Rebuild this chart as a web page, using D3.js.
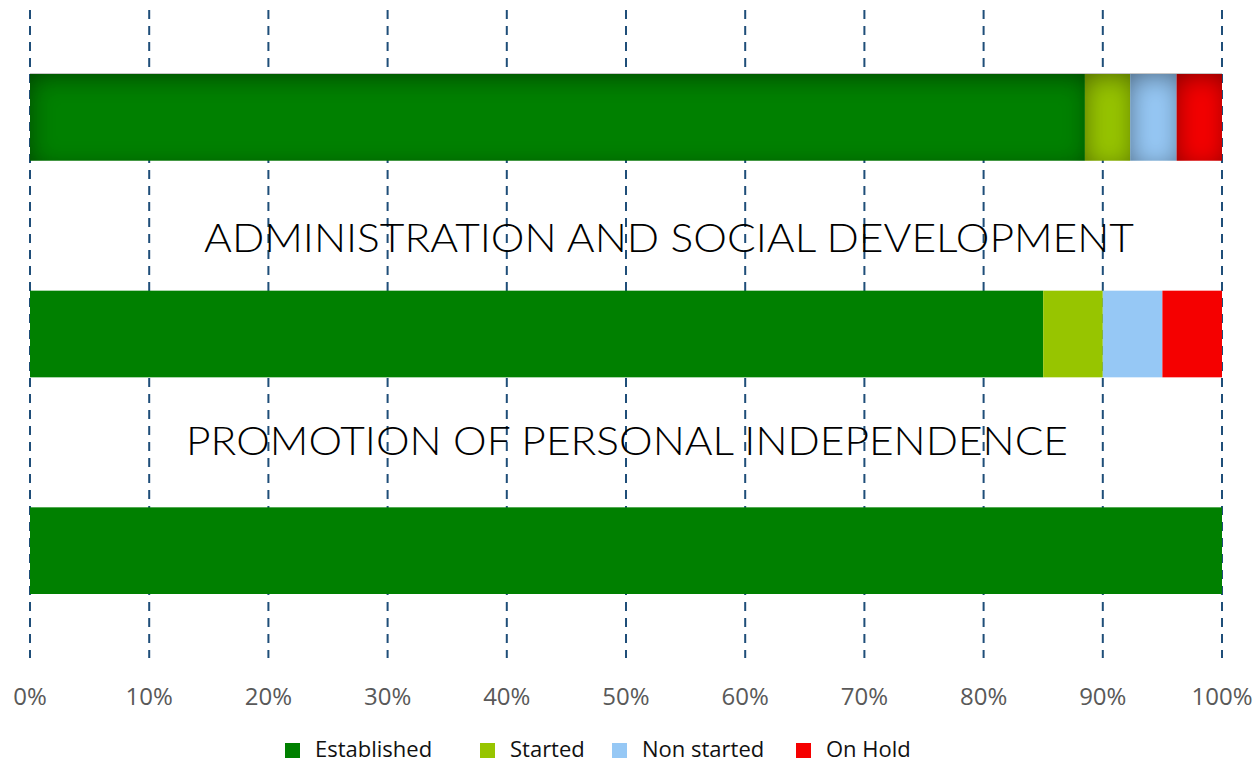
<!DOCTYPE html>
<html>
<head>
<meta charset="utf-8">
<script src="https://cdn.jsdelivr.net/npm/d3@7"></script>
<style>
  body { margin: 0; background: #fff; }
  svg text { font-family: "Open Sans", sans-serif; }
  .grid line { stroke: #1f4e79; stroke-width: 2; stroke-dasharray: 9 7; }
  .tick-label { fill: #595959; font-size: 24px; }
  .legend text { fill: #111; font-size: 22px; }
  .cat-label { fill: #000; font-family: Lato, "Open Sans", sans-serif; font-weight: 300; font-size: 40px; }
</style>
</head>
<body>
<div id="chart"></div>
<script>
// data
const categories = ['row1', 'row2', 'row3']
const categoryLabels = ['', 'ADMINISTRATION AND SOCIAL DEVELOPMENT', 'PROMOTION OF PERSONAL INDEPENDENCE']
const seriesNames = ['Established', 'Started', 'Non started', 'On Hold']
const established = [88.5, 85, 100]
const started = [3.8, 5, 0]
const nonStarted = [3.9, 5, 0]
const onHold = [3.8, 5, 0]
const tickValues = [0, 10, 20, 30, 40, 50, 60, 70, 80, 90, 100]

const colors = ['#008000', '#97c500', '#96c8f5', '#f50000']

const width = 1256
const height = 763

const rows = categories.map((c, i) => ({
  cat: c,
  'Established': established[i],
  'Started': started[i],
  'Non started': nonStarted[i],
  'On Hold': onHold[i]
}))

const stacked = d3.stack().keys(seriesNames)(rows)

const x = d3.scaleLinear().domain([0, 100]).range([30, 1222])
const y = d3.scaleBand().domain(categories).range([9, 659]).paddingInner(0.6).paddingOuter(0.3)
const color = d3.scaleOrdinal().domain(seriesNames).range(colors)

const svg = d3.select('#chart')
  .append('svg')
  .attr('width', width)
  .attr('height', height)

// inner shadow used on the first row only
const filter = svg.append('defs').append('filter')
  .attr('id', 'innerShade')
  .attr('filterUnits', 'userSpaceOnUse')
  .attr('x', 0).attr('y', 0)
  .attr('width', width).attr('height', 250)
filter.append('feFlood').attr('flood-color', '#000').attr('flood-opacity', 1)
filter.append('feComposite').attr('in2', 'SourceAlpha').attr('operator', 'out')
filter.append('feGaussianBlur').attr('stdDeviation', 12)
filter.append('feOffset').attr('dx', 2).attr('dy', 5).attr('result', 'shadow')
filter.append('feComposite').attr('in', 'shadow').attr('in2', 'SourceAlpha').attr('operator', 'in')
filter.append('feComponentTransfer').attr('result', 'inner')
  .append('feFuncA').attr('type', 'linear').attr('slope', 0.75)
const merge = filter.append('feMerge')
merge.append('feMergeNode').attr('in', 'SourceGraphic')
merge.append('feMergeNode').attr('in', 'inner')

// gridlines sit beneath the bars
svg.append('g').attr('class', 'grid')
  .selectAll('line')
  .data(tickValues)
  .join('line')
    .attr('x1', d => x(d))
    .attr('x2', d => x(d))
    .attr('y1', 10)
    .attr('y2', 658)

// faint edge above the shaded row
svg.append('line')
  .attr('x1', x(0)).attr('x2', x(100))
  .attr('y1', y(categories[0]) - 0.5).attr('y2', y(categories[0]) - 0.5)
  .attr('stroke', '#c8c8c8')
  .attr('stroke-width', 1)

// bars
svg.append('g').attr('id', 'bars')
  .selectAll('g')
  .data(stacked)
  .join('g')
    .attr('fill', d => color(d.key))
  .selectAll('rect')
  .data(d => d)
  .join('rect')
    .attr('x', d => x(d[0]))
    .attr('y', d => y(d.data.cat))
    .attr('width', d => x(d[1]) - x(d[0]))
    .attr('height', y.bandwidth())
    .attr('filter', d => d.data.cat === categories[0] ? 'url(#innerShade)' : null)

// category labels placed above their bars
const labelPos = [null, { cx: 669, dy: 39 }, { cx: 627, dy: 52 }]
const labelWidth = [0, 930, 882]
svg.append('g')
  .selectAll('text')
  .data(categories.filter((c, i) => categoryLabels[i]))
  .join('text')
    .attr('class', 'cat-label')
    .attr('text-anchor', 'middle')
    .attr('x', c => labelPos[categories.indexOf(c)].cx)
    .attr('y', c => y(c) - labelPos[categories.indexOf(c)].dy)
    .attr('textLength', c => labelWidth[categories.indexOf(c)])
    .attr('lengthAdjust', 'spacingAndGlyphs')
    .text(c => categoryLabels[categories.indexOf(c)])

// x tick labels
svg.append('g')
  .selectAll('text')
  .data(tickValues)
  .join('text')
    .attr('class', 'tick-label')
    .attr('text-anchor', 'middle')
    .attr('x', d => x(d))
    .attr('y', 705)
    .text(d => d + '%')

// legend
const legendX = [285, 480, 612, 796]
const legend = svg.append('g').attr('class', 'legend')
  .selectAll('g')
  .data(seriesNames)
  .join('g')
    .attr('transform', (d, i) => `translate(${legendX[i]},743)`)
legend.append('rect')
  .attr('width', 15)
  .attr('height', 15)
  .attr('fill', d => color(d))
legend.append('text')
  .attr('x', 30)
  .attr('y', 14)
  .text(d => d)
</script>
</body>
</html>
